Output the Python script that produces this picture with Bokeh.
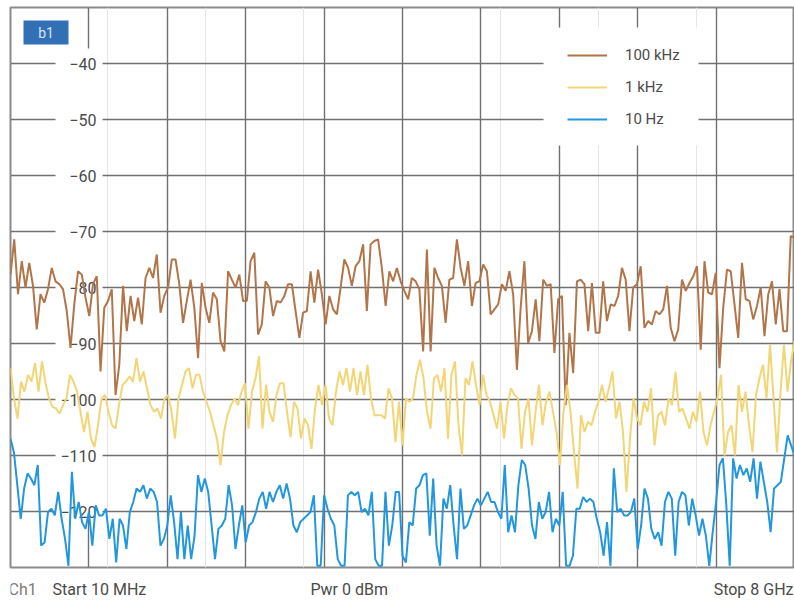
import numpy as np
from bokeh.plotting import figure
from bokeh.layouts import column
from bokeh.models import Range1d, FixedTicker, Grid, Legend, LegendItem, Label, ColumnDataSource
from bokeh.core.properties import value
from bokeh.embed import file_html
from bokeh.resources import INLINE

# ---------------- data ----------------
start_mhz = 10
stop_mhz = 8000
y_min, y_max = -130, -30
y_ticks = [-40, -50, -60, -70, -80, -90, -100, -110, -120]
y_tick_labels = ["\u221240", "\u221250", "\u221260", "\u221270", "\u221280",
                 "\u221290", "\u2212100", "\u2212110", "\u2212120"]
series_names = ["100 kHz", "1 kHz", "10 Hz"]
footer_texts = ["Ch1", "Start 10 MHz", "Pwr 0 dBm", "Stop 8 GHz"]
channel_badge = "b1"

bw_100khz = [
    -77.7, -71.4, -81.2, -75.3, -80.0, -75.6, -79.7, -87.5, -81.2, -82.7, -80.3, -76.5, -78.9, -79.4,
    -80.3, -84.2, -90.8, -83.0, -77.1, -77.7, -81.8, -85.1, -79.4, -78.0, -95.0, -83.6, -82.4, -80.3,
    -99.2, -93.8, -79.7, -87.8, -81.5, -86.0, -81.8, -86.6, -78.3, -76.5, -78.3, -74.1, -84.5, -81.5,
    -80.0, -75.0, -75.0, -79.4, -86.3, -82.4, -78.6, -83.6, -92.6,
    -79.2, -83.6, -86.3, -80.9, -82.1, -89.6, -91.4, -77.1, -78.6, -80.0, -77.7, -82.4, -82.4, -75.3,
    -73.8, -88.4, -86.6, -78.9, -80.0, -85.1, -82.4, -82.7, -81.5, -79.4, -79.4, -84.2, -89.0, -84.5,
    -84.2, -77.1, -82.7, -76.8, -81.2, -86.6, -81.5, -83.9, -84.8, -80.0, -75.0, -76.5, -79.7, -76.2,
    -75.3, -72.3, -84.2, -72.3, -71.7, -71.4, -76.5, -83.3, -77.1, -78.9,
    -76.5, -78.9, -80.6, -82.1, -78.3, -78.9, -80.3, -91.4, -73.2, -91.4, -76.5, -78.3, -79.7, -86.3,
    -78.6, -78.3, -71.4, -76.5, -79.7, -75.3, -83.3, -79.2, -78.9, -75.9, -77.1, -84.8, -83.9, -83.0,
    -79.4, -80.6, -77.1, -81.2, -94.7, -83.6, -75.3, -89.9, -87.8, -82.1, -89.6, -78.6, -79.7, -79.4,
    -91.7, -82.1, -81.5, -101.0, -88.1, -95.3, -78.9, -78.6, -79.4, -87.8,
    -79.2, -88.1, -88.1, -78.9, -86.0, -83.0, -83.3, -81.5, -76.5, -78.6, -87.8, -80.0, -79.4, -76.2,
    -87.2, -86.0, -86.6, -84.2, -84.8, -83.9, -79.7, -87.2, -89.6, -87.5, -78.6, -80.6, -79.2, -78.0,
    -76.2, -91.1, -75.3, -80.9, -81.2, -77.4, -94.4, -83.6, -76.8, -77.1, -83.0, -89.0, -75.6, -82.1,
    -82.4, -85.7, -83.3, -80.0, -88.7, -81.2, -78.9, -86.6, -80.3, -87.8, -87.8, -70.8, -71.1,
]

bw_1khz = [
    -94.4, -99.8, -103.4, -96.8, -98.6, -95.6, -96.8, -93.5, -98.6, -93.2, -97.1, -99.8, -101.3, -101.6,
    -102.5, -101.0, -99.8, -95.6, -96.8, -98.6, -102.2, -105.8, -102.2, -107.0, -108.5, -104.6, -99.8,
    -99.2, -102.2, -104.6, -105.2, -101.0, -97.4, -96.8, -95.9, -96.8, -92.6, -96.8, -95.0, -98.0,
    -101.0, -102.2, -101.6, -103.4, -99.8, -99.2, -102.2, -107.0, -99.8, -97.4, -95.0, -94.4, -98.0, -95.6,
    -95.6, -98.6, -100.4, -102.2, -104.6, -107.0, -111.7, -105.8, -102.8, -101.0, -99.8, -101.0, -98.6,
    -97.1, -105.2, -98.6, -96.2, -92.3, -105.2, -97.4, -102.2, -104.0, -99.2, -97.1, -97.1, -102.2,
    -106.7, -100.4, -101.6, -107.0, -103.4, -104.6, -108.8, -101.6, -97.4, -101.0, -97.4, -103.4, -104.6,
    -98.6, -95.0, -97.4, -94.4, -98.6, -94.4, -99.2, -95.0, -99.2, -93.8, -99.8, -102.8, -102.8, -102.8,
    -103.4, -98.0, -99.8, -107.6,
    -100.4, -108.2, -99.8, -100.4, -99.8, -95.6, -92.9, -96.2, -102.2, -105.2, -96.2, -95.6, -98.6, -94.4,
    -107.0, -95.6, -93.2, -104.6, -110.0, -96.2, -97.4, -93.2, -97.4, -101.0, -95.6, -99.2, -100.4,
    -102.8, -105.2, -100.4, -107.0, -101.0, -98.0, -99.2, -99.8, -108.8, -102.2, -99.8, -108.2, -102.2,
    -97.4, -104.6, -100.4, -98.6, -102.2, -105.8, -111.7, -102.2, -97.4, -102.2, -109.4, -115.9, -102.8,
    -105.8, -104.0, -104.6, -102.2,
    -100.4, -97.4, -100.4, -98.0, -95.0, -103.4, -100.4, -105.8, -116.5, -107.0, -99.8, -103.4, -104.6,
    -100.4, -102.2, -98.0, -108.2, -102.8, -102.2, -104.6, -99.8, -101.0, -95.0, -102.2, -101.6, -103.4,
    -105.2, -102.2, -104.0, -98.6, -105.8, -108.2, -104.6, -102.2, -99.8, -95.6, -110.0, -105.8, -104.6,
    -110.0, -97.4, -102.2, -98.6, -104.6, -109.4, -99.2, -96.2, -93.8, -99.8, -90.2, -99.8, -109.4, -98.6,
    -90.2, -98.6, -93.2, -89.6,
]

bw_10hz = [
    -107.0, -109.4, -115.3, -121.3, -115.9, -113.2, -114.1, -115.3, -111.7, -126.1, -125.5, -120.1,
    -119.5, -120.7, -116.5, -121.3, -124.9, -129.7, -112.9, -121.3, -118.3, -121.9, -123.1, -120.1,
    -126.1, -118.9, -120.7, -120.7, -119.5, -124.9, -121.3, -129.1, -121.3, -122.5, -126.7, -120.1,
    -118.3, -115.9, -116.5, -115.3, -117.7, -115.9, -116.5, -118.3, -126.1, -124.9, -122.5, -117.1,
    -121.9, -128.5, -120.1, -128.5, -122.5, -128.5, -124.3, -113.5,
    -116.5, -114.1, -116.5, -122.5, -128.5, -123.1, -122.5, -121.3, -115.3, -118.9, -126.7, -122.5,
    -118.9, -125.5, -122.5, -121.9, -120.1, -117.7, -116.5, -119.5, -116.5, -118.3, -116.5, -115.3,
    -117.7, -115.0, -117.7, -122.5, -123.7, -121.9, -121.3, -120.7, -120.1, -117.1, -129.7, -129.7,
    -117.1, -119.5, -121.3, -122.5, -128.5, -129.7, -129.7, -117.1, -116.5, -117.1, -116.5, -120.1,
    -119.5, -120.7, -116.5, -128.5, -129.7, -129.7, -116.5, -126.1, -122.5, -116.5,
    -116.5, -127.9, -129.1, -121.9, -122.5, -115.9, -115.3, -113.5, -113.2, -124.3, -114.1, -126.1,
    -129.7, -117.7, -119.5, -115.3, -122.5, -128.5, -115.9, -123.1, -122.5, -120.7, -118.9, -117.7,
    -118.9, -117.7, -116.5, -118.3, -118.3, -120.1, -121.3, -111.7, -123.7, -120.7, -123.7, -115.3,
    -110.8, -111.7, -115.9, -122.5, -124.9, -118.3, -121.3, -120.1, -116.5, -123.7, -121.3, -122.5,
    -116.5, -129.7, -129.7, -127.9, -119.5, -119.5, -117.4, -118.3,
    -117.7, -118.3, -121.3, -123.7, -127.9, -121.9, -129.7, -112.3, -120.1, -119.5, -120.7, -120.7,
    -120.1, -117.7, -126.7, -122.5, -115.9, -117.7, -123.1, -124.9, -123.7, -126.1, -118.3, -116.5,
    -117.7, -127.9, -118.3, -116.5, -117.1, -122.5, -117.7, -120.7, -124.3, -121.3, -124.3, -129.7,
    -123.7, -118.3, -111.7, -110.5, -118.9, -129.7, -110.5, -114.1, -111.7, -113.5, -112.3, -114.7,
    -110.5, -117.7, -111.1, -114.7, -118.3, -123.7, -115.9, -115.3, -114.7, -110.5, -106.4, -108.2, -110.0,
]

colors = ["#b27549", "#f2d676", "#2297dd"]

# ---------------- geometry helpers (pixels -> data) ----------------
W = 794
MAIN_H = 570
FOOT_H = 32
FL, FT, FR, FB = 10, 7, 794, 567


def xp(px):
    return start_mhz + (px - FL) / (FR - FL) * (stop_mhz - start_mhz)


def yp(py):
    return y_max - (py - FT) / (FB - FT) * (y_max - y_min)


p = figure(width=W, height=MAIN_H, output_backend="svg", toolbar_location=None,
           x_range=Range1d(start_mhz, stop_mhz), y_range=Range1d(y_min, y_max),
           x_axis_location=None, y_axis_location=None,
           min_border_left=FL, min_border_right=W - FR, min_border_top=FT,
           min_border_bottom=MAIN_H - FB)
p.outline_line_color = "#8a8a8a"
p.outline_line_width = 2
p.background_fill_color = "white"
p.border_fill_color = "white"

xt = [start_mhz + i * (stop_mhz - start_mhz) / 10 for i in range(1, 10)]
yt = y_ticks
gx = Grid(dimension=0, ticker=FixedTicker(ticks=xt), grid_line_color="#707070", grid_line_width=1.4)
gy = Grid(dimension=1, ticker=FixedTicker(ticks=yt), grid_line_color="#707070", grid_line_width=1.4)
p.add_layout(gx)
p.add_layout(gy)

# white panels that interrupt the grid (label column, legend area)
p.quad(left=[xp(55), xp(543)], right=[xp(102), xp(698)],
       top=[yp(48), yp(27)], bottom=[yp(519), yp(145)],
       fill_color="white", line_alpha=0)

# y tick labels inside the plot
lab_src = ColumnDataSource(dict(x=[xp(96)] * len(y_ticks), y=y_ticks, t=y_tick_labels))
p.text(x="x", y="y", text="t", source=lab_src, text_align="right", text_baseline="middle",
       text_font=value("Roboto"), text_font_size="16px", text_color="#4a4a4a")

# badge
p.quad(left=[xp(23)], right=[xp(68)], top=[yp(20)], bottom=[yp(44)],
       fill_color="#3270b6", line_alpha=0)
p.add_layout(Label(x=xp(45.5), y=yp(32), text=channel_badge, text_align="center",
                   text_baseline="middle", text_font="Roboto", text_font_size="14px",
                   text_color="#d6e4f3"))

# traces
renderers = []
for vals, col in zip([bw_100khz, bw_1khz, bw_10hz], colors):
    f = np.linspace(start_mhz, stop_mhz, len(vals))
    r = p.line(f, vals, line_color=col, line_width=2)
    renderers.append(r)

legend = Legend(items=[LegendItem(label=n, renderers=[r]) for n, r in zip(series_names, renderers)],
                location=(551 - FL, FB - 145), margin=0, padding=16, spacing=12,
                glyph_width=40, glyph_height=20, label_height=20, label_standoff=18,
                border_line_alpha=0, background_fill_color="white", background_fill_alpha=1,
                label_text_font="Roboto", label_text_font_size="15px", label_text_color="#4a4a4a")
p.add_layout(legend)

# ---------------- footer strip ----------------
foot = figure(width=W, height=FOOT_H, output_backend="svg", toolbar_location=None,
              x_range=p.x_range, y_range=Range1d(FOOT_H, 0),
              x_axis_location=None, y_axis_location=None,
              min_border_left=FL, min_border_right=W - FR, min_border_top=0, min_border_bottom=0)
foot.outline_line_color = None
foot.xgrid.visible = False
foot.ygrid.visible = False
foot.grid.visible = False
fy = 589 - MAIN_H
foot_src = ColumnDataSource(dict(
    x=[xp(8), xp(52), xp(310)], y=[fy, fy, fy], t=footer_texts[:3],
    c=["#7a7a7a", "#4a4a4a", "#4a4a4a"]))
foot.text(x="x", y="y", text="t", text_color="c", source=foot_src, text_baseline="middle",
          text_font=value("Roboto"), text_font_size="16px")
foot.text(x=[xp(793)], y=[fy], text=[footer_texts[3]], text_baseline="middle", text_align="right",
          text_font=value("Roboto"), text_font_size="16px", text_color="#4a4a4a")

layout = column(p, foot, spacing=0)
open("out.html", "w").write(file_html(layout, INLINE))
